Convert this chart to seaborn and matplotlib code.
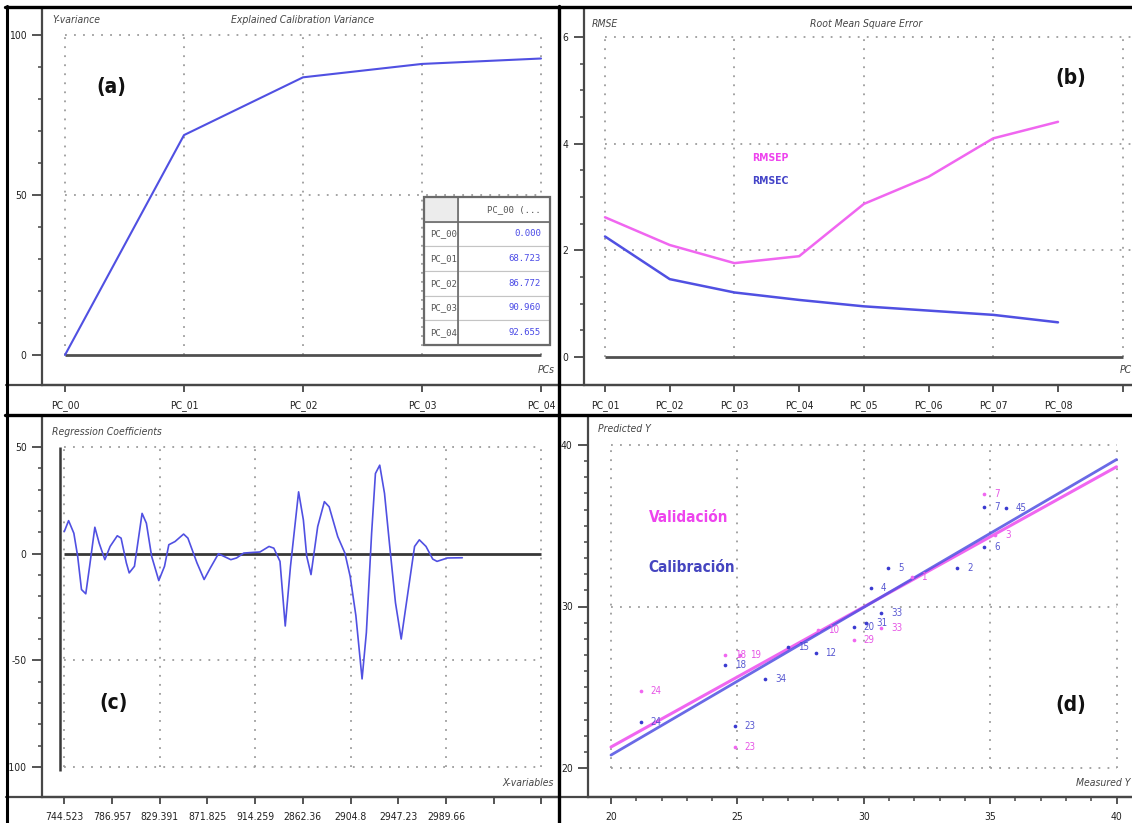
import numpy as np
import matplotlib
matplotlib.use('Agg')
import matplotlib.pyplot as plt
from matplotlib import font_manager
from matplotlib.lines import Line2D
from matplotlib.patches import Rectangle
from matplotlib.ticker import FixedLocator
import seaborn as sns

# ---------------- data ----------------
pcs_a = ['PC_00', 'PC_01', 'PC_02', 'PC_03', 'PC_04']
y_variance = [0.000, 68.723, 86.772, 90.960, 92.655]

pcs_b = ['PC_01', 'PC_02', 'PC_03', 'PC_04', 'PC_05', 'PC_06', 'PC_07', 'PC_08', '']
rmsep = [2.62, 2.10, 1.76, 1.89, 2.87, 3.38, 4.10, 4.41]
rmsec = [2.26, 1.46, 1.21, 1.07, 0.95, 0.87, 0.79, 0.65]

xvar_labels = ['744.523', '786.957', '829.391', '871.825', '914.259',
               '2862.36', '2904.8', '2947.23', '2989.66', '', '']
coef_index = [0, 0.9, 2.0, 2.8, 3.6, 4.5, 5.3, 6.4, 7.3, 8.5, 9.6, 11.1, 11.9,
              13.0, 13.6, 14.7, 16.3, 17.2, 18.3, 19.8, 21.0, 21.9, 23.2, 25.0,
              25.9, 27.8, 29.3, 30.6, 32.3, 33.4, 34.9, 36.1, 37.6, 39.5, 41.0,
              42.9, 43.9, 45.2, 46.3, 47.4, 49.1, 50.1, 50.8, 51.7, 53.1, 54.5,
              55.5, 57.3, 58.8, 59.9, 61.1, 62.4, 63.3, 64.4, 65.2, 66.1, 67.1,
              68.2, 69.4, 70.6, 71.8, 73.4, 74.4, 75.8, 77.2, 78.1, 79.2, 80.3, 83.4]
coef_value = [10.4, 15.5, 9.6, -1.2, -16.8, -18.8, -6.0, 12.4, 5.0, -2.8, 3.4, 8.4,
              7.3, -4.3, -9.0, -5.9, 18.9, 14.3, -1.2, -12.6, -5.9, 4.2, 5.7, 9.2,
              7.3, -4.3, -12.1, -6.7, 0.0, -1.2, -2.8, -2.0, 0.3, 0.6, 0.8, 3.4,
              2.6, -3.6, -33.9, -5.9, 29.0, 15.8, -1.2, -9.8, 12.7, 24.4, 22.0,
              8.0, 0.3, -10.6, -29.0, -58.7, -37.0, 9.6, 37.6, 41.5, 28.3, 3.4,
              -23.0, -40.0, -21.4, 3.4, 6.5, 3.4, -2.5, -3.6, -2.8, -2.0, -1.9]

cal_ids = ['24', '23', '18', '34', '15', '12', '20', '31', '33', '4', '5', '2', '7', '6', '45']
cal_measured = [21.19, 24.91, 24.51, 26.10, 27.00, 28.10, 29.60, 30.10, 30.70,
                30.30, 30.97, 33.70, 34.77, 34.77, 35.64]
cal_predicted = [22.85, 22.60, 26.35, 25.50, 27.50, 27.10, 28.70, 29.00, 29.60,
                 31.15, 32.40, 32.40, 36.16, 33.68, 36.10]
val_ids = ['24', '23', '18', '19', '10', '29', '1', '33', '3', '7']
val_measured = [21.19, 24.91, 24.51, 25.10, 28.20, 29.60, 31.90, 30.70, 35.20, 34.77]
val_predicted = [24.77, 21.30, 27.00, 27.00, 28.55, 27.95, 31.80, 28.67, 34.40, 36.97]
fit_measured = [20, 40]
cal_fit = [20.8, 39.1]
val_fit = [21.3, 38.65]

# ---------------- style ----------------
sns.set_style('white')
avail = {f.name for f in font_manager.fontManager.ttflist}
NARROW = 'Liberation Sans Narrow' if 'Liberation Sans Narrow' in avail else 'DejaVu Sans'
plt.rcParams['font.family'] = [NARROW, 'DejaVu Sans']
if NARROW == 'DejaVu Sans':
    plt.rcParams['font.stretch'] = 'condensed'
plt.rcParams['axes.unicode_minus'] = False

BLUE = '#5050e2'
MAG = '#f066f0'
AX = '#474747'
GRID = '#9c9c9c'
W, H = 1132, 823
fig = plt.figure(figsize=(W / 100, H / 100), dpi=100)
fig.patch.set_facecolor('white')


def add_axes(l, r, t, b):
    return fig.add_axes([l / W, 1 - b / H, (r - l) / W, (b - t) / H])


def set_lims(ax, box, xref, yref):
    l, r, t, b = box
    (xa, xpa), (xb, xpb) = xref
    (ya, ypa), (yb, ypb) = yref
    sx = (xb - xa) / (xpb - xpa)
    sy = (yb - ya) / (ypb - ypa)
    ax.set_xlim(xa + (l - xpa) * sx, xa + (r - xpa) * sx)
    ax.set_ylim(ya + (b - ypa) * sy, ya + (t - ypa) * sy)


def style(ax):
    for s in ['top', 'right']:
        ax.spines[s].set_visible(False)
    for s in ['left', 'bottom']:
        ax.spines[s].set_color(AX)
        ax.spines[s].set_linewidth(1.6)
    ax.tick_params(which='both', bottom=True, left=True, top=False, right=False)
    ax.tick_params(axis='y', which='major', direction='out', length=7, width=1.3,
                   color=AX, labelsize=7.5, labelcolor='#222222', pad=4)
    ax.tick_params(axis='y', which='minor', direction='out', length=3.2, width=1.1, color=AX)
    ax.tick_params(axis='x', which='major', direction='out', length=5, width=1.3,
                   color=AX, labelsize=7.5, labelcolor='#222222', pad=6)
    ax.tick_params(axis='x', which='minor', direction='out', length=3, width=1.1, color=AX)
    ax.set_facecolor('white')
    ax.grid(False)


def dotted_grid(ax, xs, ys, x0, x1, y0, y1):
    ax.vlines(xs, y0, y1, colors=GRID, linestyles=(0, (1, 4)), lw=1.3, zorder=1)
    ax.hlines(ys, x0, x1, colors=GRID, linestyles=(0, (1, 4)), lw=1.3, zorder=1)


def ftext(px, py, s, **kw):
    fig.text(px / W, 1 - py / H, s, **kw)


# ---------------- (a) ----------------
boxA = (42, 558, 8, 385)
axA = add_axes(*boxA)
style(axA)
xa = np.arange(len(pcs_a))
set_lims(axA, boxA, ((0, 65), (4, 541)), ((0, 355), (100, 35)))
dotted_grid(axA, xa, [50, 100], xa[0], xa[-1], 0, 100)
axA.hlines(0, xa[0], xa[-1], colors='#505050', lw=2.0, zorder=2)
sns.lineplot(x=xa, y=y_variance, ax=axA, color=BLUE, lw=1.5, zorder=3)
axA.set_xticks(xa)
axA.set_xticklabels(pcs_a)
axA.set_yticks([0, 50, 100])
axA.yaxis.set_minor_locator(FixedLocator(np.arange(0, 101, 10)))
axA.set_xlabel('')
axA.set_ylabel('')

cell_text = [['', 'PC_00 (...']] + [[p, f'{v:.3f}'] for p, v in zip(pcs_a, y_variance)]
tx0, tw = (424 - 42) / 516, 126 / 516
ty0, th = (385 - 345) / 377, 148 / 377
tbl = axA.table(cellText=cell_text, bbox=[tx0, ty0, tw, th], colWidths=[0.27, 0.73],
                cellLoc='right')
tbl.auto_set_font_size(False)
tbl.set_fontsize(6.5)
tbl.set_zorder(5)
for (r, c), cell in tbl.get_celld().items():
    cell.set_edgecolor('#c4c4c4')
    cell.set_linewidth(0.8)
    t = cell.get_text()
    t.set_fontfamily('DejaVu Sans Mono')
    if r == 0:
        cell.set_facecolor('#ececec' if c == 0 else 'white')
        t.set_color('#555555')
        cell._loc = 'center'
    elif c == 0:
        t.set_color('#555555')
        cell._loc = 'left'
        cell.PAD = 0.04
    else:
        t.set_color('#4a4ae6')
axA.add_patch(Rectangle((tx0, ty0), tw, th, transform=axA.transAxes, fill=False,
                        ec='#6a6a6a', lw=1.6, zorder=6, clip_on=False))
axA.add_line(Line2D([tx0 + 0.27 * tw] * 2, [ty0, ty0 + th], transform=axA.transAxes,
                    color='#6a6a6a', lw=1.2, zorder=6))
axA.add_line(Line2D([tx0, tx0 + tw], [ty0 + th * 5 / 6] * 2, transform=axA.transAxes,
                    color='#6a6a6a', lw=1.2, zorder=6))

# ---------------- (b) ----------------
boxB = (584, 1132, 8, 385)
axB = add_axes(*boxB)
style(axB)
xb = np.arange(1, len(rmsep) + 1)
set_lims(axB, boxB, ((1, 605), (8, 1058)), ((0, 357), (6, 37)))
xticks_b = np.arange(1, len(pcs_b) + 1)
dotted_grid(axB, xticks_b[::2], [2, 4, 6], 1, axB.get_xlim()[1], 0, 6)
axB.hlines(0, 1, xticks_b[-1], colors='#505050', lw=2.0, zorder=2)
sns.lineplot(x=xb, y=rmsep, ax=axB, color=MAG, lw=1.8, zorder=3)
sns.lineplot(x=xb, y=rmsec, ax=axB, color=BLUE, lw=1.8, zorder=3)
axB.set_xticks(xticks_b)
axB.set_xticklabels(pcs_b)
axB.set_yticks([0, 2, 4, 6])
axB.yaxis.set_minor_locator(FixedLocator(np.arange(0, 6.01, 0.5)))
axB.set_xlabel('')
axB.set_ylabel('')

# ---------------- (c) ----------------
boxC = (42, 558, 416, 797)
axC = add_axes(*boxC)
style(axC)
set_lims(axC, boxC, ((0, 64.3), (100, 541.5)), ((0, 553.7), (-100, 767)))
xticks_c = np.arange(0, 101, 10)
dotted_grid(axC, xticks_c[::2], [50, -50, -100], 0, 100, -100, 50)
axC.hlines(0, 0, 100, colors='#383838', lw=2.0, zorder=2)
axC.vlines(-0.9, -102, 50, colors='#383838', lw=1.8, zorder=2)
sns.lineplot(x=coef_index, y=coef_value, ax=axC, color=BLUE, lw=1.2, sort=False,
             estimator=None, zorder=3)
axC.set_xticks(xticks_c)
axC.set_xticklabels(xvar_labels)
axC.set_yticks([-100, -50, 0, 50])
axC.yaxis.set_minor_locator(FixedLocator(np.arange(-100, 51, 10)))
axC.set_xlabel('')
axC.set_ylabel('')

# ---------------- (d) ----------------
boxD = (588, 1132, 416, 797)
axD = add_axes(*boxD)
style(axD)
set_lims(axD, boxD, ((20, 611), (40, 1116.5)), ((20, 768), (40, 445)))
dotted_grid(axD, [20, 25, 30, 35, 40], [20, 30, 40], 20, 40, 20, 40)
sns.lineplot(x=fit_measured, y=val_fit, ax=axD, color=MAG, lw=2.2, zorder=3)
sns.lineplot(x=fit_measured, y=cal_fit, ax=axD, color=BLUE, lw=2.0, alpha=0.85, zorder=3)
sns.scatterplot(x=val_measured, y=val_predicted, ax=axD, color=MAG, s=7, lw=0, zorder=4)
sns.scatterplot(x=cal_measured, y=cal_predicted, ax=axD, color='#3a3ad0', s=7, lw=0, zorder=4)
for i, xv, yv in zip(val_ids, val_measured, val_predicted):
    axD.annotate(i, (xv, yv), xytext=(7, 0), textcoords='offset points', va='center',
                 ha='left', fontsize=7, color='#e656e6', zorder=5)
for i, xv, yv in zip(cal_ids, cal_measured, cal_predicted):
    axD.annotate(i, (xv, yv), xytext=(7, 0), textcoords='offset points', va='center',
                 ha='left', fontsize=7, color='#4646cc', alpha=0.9, zorder=5)
axD.set_xticks([20, 25, 30, 35, 40])
axD.xaxis.set_minor_locator(FixedLocator(np.arange(20, 41, 1)))
axD.set_yticks([20, 30, 40])
axD.yaxis.set_minor_locator(FixedLocator(np.arange(20, 41, 1)))
axD.set_xlabel('')
axD.set_ylabel('')

# ---------------- texts ----------------
it = dict(fontsize=7.5, style='italic', color='#444444', va='center')
ftext(52, 20, 'Y-variance', ha='left', **it)
ftext(303, 20, 'Explained Calibration Variance', ha='center', **it)
ftext(555, 370, 'PCs', ha='right', **it)
ftext(592, 24, 'RMSE', ha='left', **it)
ftext(866, 24, 'Root Mean Square Error', ha='center', **it)
ftext(1120, 370, 'PC', ha='left', **it)
ftext(52, 432, 'Regression Coefficients', ha='left', **it)
ftext(554, 783, 'X-variables', ha='right', **it)
ftext(598, 429, 'Predicted Y', ha='left', **it)
ftext(1130, 783, 'Measured Y', ha='right', **it)

bold = dict(fontsize=15, weight='bold', color='#111111', ha='center', va='center')
ftext(111, 87, '(a)', **bold)
ftext(1071, 78, '(b)', **bold)
ftext(114, 703, '(c)', **bold)
ftext(1071, 705, '(d)', **bold)

ftext(770, 158, 'RMSEP', fontsize=7.5, weight='bold', color='#ee44ee', ha='center', va='center')
ftext(770, 181, 'RMSEC', fontsize=7.5, weight='bold', color='#4545c8', ha='center', va='center')
ftext(689, 517, 'Validación', fontsize=11, weight='bold', color='#ee44ee', ha='center', va='center')
ftext(692, 567, 'Calibración', fontsize=11, weight='bold', color='#4545c0', ha='center', va='center')

# ---------------- frame lines ----------------
def fline(xs, ys, **kw):
    fig.add_artist(Line2D([x / W for x in xs], [1 - y / H for y in ys], **kw))

fline([6, 1132], [385, 385], color=AX, lw=1.6, zorder=20)
fline([6, 1132], [797, 797], color=AX, lw=1.6, zorder=20)
fline([5, 1132], [7, 7], color='black', lw=2.4, zorder=21)
fline([5, 1132], [415, 415], color='black', lw=2.4, zorder=21)
fline([6.5, 6.5], [6, 823], color='black', lw=2.2, zorder=21)
fline([559, 559], [6, 823], color='black', lw=2.4, zorder=21)

fig.savefig('out.png', dpi=100, facecolor='white')
